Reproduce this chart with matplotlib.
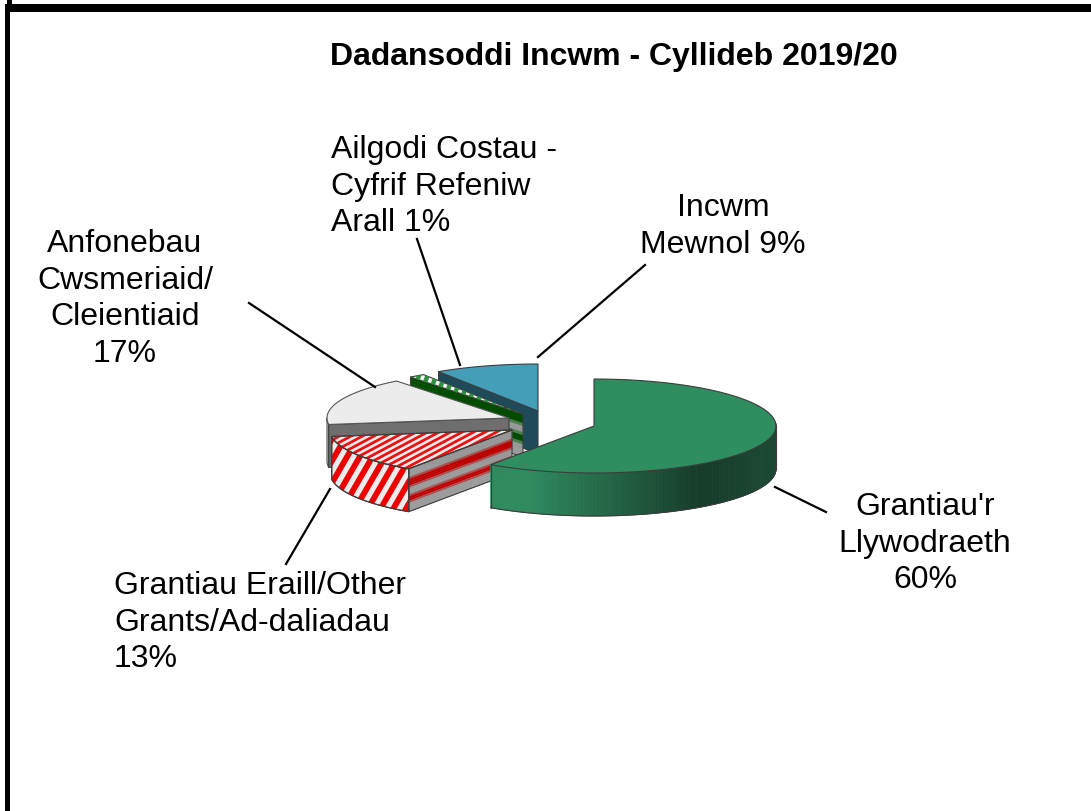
import numpy as np
import matplotlib
matplotlib.use("Agg")
import matplotlib.pyplot as plt
from matplotlib.patches import Polygon
from matplotlib.colors import to_rgb

plt.rcParams['font.family'] = ['Liberation Sans', 'DejaVu Sans']

title = "Dadansoddi Incwm - Cyllideb 2019/20"
# clockwise from 12 o'clock, shares
names = ["Grantiau'r", "Grantiau Eraill", "Anfonebau", "Ailgodi", "Incwm"]
shares = [59.6, 13.2, 16.6, 1.4, 9.2]

# pie geometry in pixels
rx, ry, depth = 182, 47, 43
centers = {"Grantiau'r": (594, 427), "Grantiau Eraill": (512, 431),
           "Anfonebau": (509, 419), "Ailgodi": (523, 415), "Incwm": (538, 412)}

ends = np.cumsum(shares) * 3.6
starts = ends - np.array(shares) * 3.6
theta = dict(zip(names, zip(starts, ends)))

fig = plt.figure(figsize=(10.91, 8.12), dpi=100)
ax = fig.add_axes([0, 0, 1, 1])
ax.set_xlim(0, 1091)
ax.set_ylim(812, 0)
ax.axis("off")

EDGE = "#3c3c3c"


def rim(name, a0, a1, dy=0, n=60):
    cx, cy = centers[name]
    a = np.radians(np.linspace(a0, a1, n))
    return np.column_stack([cx + rx * np.sin(a), cy - ry * np.cos(a) + dy])


def top(name):
    a0, a1 = theta[name]
    return np.vstack([centers[name], rim(name, a0, a1)])


def wall(name, a0, a1):
    return np.vstack([rim(name, a0, a1), rim(name, a0, a1, depth)[::-1]])


def cut(name, a):
    p = rim(name, a, a, n=1)[0]
    c = np.array(centers[name])
    d = np.array([0, depth])
    return np.array([p, c, c + d, p + d])


def shape(pts, color, z, edge=EDGE, lw=0.8):
    patch = Polygon(pts, closed=True, facecolor=color, edgecolor=edge, linewidth=lw, zorder=z)
    ax.add_patch(patch)
    return patch


def stripes(pts, slope, spacing, color, lw, z):
    # thick lines clipped to the polygon
    clip = Polygon(pts, closed=True, transform=ax.transData, facecolor="none", edgecolor="none")
    ax.add_patch(clip)
    mid = pts.mean(axis=0)
    a = np.radians(slope)
    d = np.array([np.cos(a), -np.sin(a)])
    nrm = np.array([d[1], -d[0]])
    for k in np.arange(-60, 61):
        c = mid + nrm * k * spacing
        ln, = ax.plot([c[0] - d[0] * 300, c[0] + d[0] * 300], [c[1] - d[1] * 300, c[1] + d[1] * 300],
                      color=color, lw=lw, zorder=z, solid_capstyle="butt")
        ln.set_clip_path(clip)


def bands(pts, colors, z):
    # parallel bands along a cut face, pts = top-a, top-b, bottom-b, bottom-a
    n = len(colors)
    for i, col in enumerate(colors):
        t0, t1 = i / n, (i + 1) / n
        q = np.array([pts[0] + (pts[3] - pts[0]) * t0, pts[1] + (pts[2] - pts[1]) * t0,
                      pts[1] + (pts[2] - pts[1]) * t1, pts[0] + (pts[3] - pts[0]) * t1])
        ax.add_patch(Polygon(q, closed=True, facecolor=col, edgecolor=col, linewidth=0.3, zorder=z))
    ax.add_patch(Polygon(pts, closed=True, facecolor="none", edgecolor=EDGE, linewidth=0.8, zorder=z + 0.1))


GREY, RED, MIX = "#9a9a9a", "#c00000", "#a85050"
DKG, GMIX = "#004d00", "#4f7f4f"

# Incwm Mewnol
a0, a1 = theta["Incwm"]
shape(cut("Incwm", a0), "#1f4a5a", 1)
shape(top("Incwm"), "#459eb8", 1.2)

# Ailgodi Costau
a0, a1 = theta["Ailgodi"]
bands(cut("Ailgodi", a0), [DKG, DKG, DKG, GMIX, GREY, GREY, GMIX, DKG, DKG, GMIX, GREY, GREY, GREY, GREY], 2)
t = top("Ailgodi")
shape(t, "#eef4ee", 2.2)
stripes(t, 70, 8, "#2f8f3f", 3.2, 2.3)

# Anfonebau
a0, a1 = theta["Anfonebau"]
shape(wall("Anfonebau", a0, a0 + 8), "#d6d6d6", 3, edge="#555555")
shape(cut("Anfonebau", a0), "#6e6e6e", 3.1)
shape(top("Anfonebau"), "#ececec", 3.2, edge="#555555")

# Grantiau Eraill
a0, a1 = theta["Grantiau Eraill"]
face = cut("Grantiau Eraill", a0)
bands(face[[1, 0, 3, 2]], [GREY, GREY, GREY, GREY, MIX, RED, RED, RED, MIX, GREY, GREY, GREY, MIX,
                           RED, RED, MIX, GREY, GREY, GREY, GREY], 4)
w = wall("Grantiau Eraill", a0, a1)
shape(w, "#ececec", 4.2)
stripes(w, 60, 11, "#ee0000", 4.2, 4.3)
ax.add_patch(Polygon(w, closed=True, facecolor="none", edgecolor=EDGE, linewidth=0.8, zorder=4.4))
t = top("Grantiau Eraill")
shape(t, "#f3eeee", 4.5)
stripes(t, 28, 5.4, "#ee1010", 2.0, 4.6)
ax.add_patch(Polygon(t, closed=True, facecolor="none", edgecolor=EDGE, linewidth=0.8, zorder=4.7))

# Grantiau'r Llywodraeth, wall shaded in thin slices
a0, a1 = theta["Grantiau'r"]
steps = np.linspace(85, a1, 130)
light, dark, rimc = np.array(to_rgb("#2f8a5e")), np.array(to_rgb("#163b2a")), np.array(to_rgb("#1c4a34"))
for s0, s1 in zip(steps[:-1], steps[1:]):
    x = rim("Grantiau'r", s0, s1, n=2)[:, 0].mean()
    if x < 700:
        f = min((700 - x) / 170, 1)
        col = dark * (1 - f) + light * f
    else:
        f = (x - 700) / 76
        col = dark * (1 - f) + rimc * f
    ax.add_patch(Polygon(wall("Grantiau'r", s0, s1), closed=True, facecolor=col, edgecolor=col, linewidth=0.6, zorder=5))
ax.plot(*rim("Grantiau'r", 85, a1, depth).T, color=EDGE, lw=0.8, zorder=5.1)
p = rim("Grantiau'r", a1, a1, n=1)[0]
ax.plot([p[0], p[0]], [p[1], p[1] + depth], color=EDGE, lw=0.8, zorder=5.1)
q = rim("Grantiau'r", 90, 90, n=1)[0]
ax.plot([q[0], q[0]], [q[1], q[1] + depth], color=EDGE, lw=0.8, zorder=5.1)
shape(top("Grantiau'r"), "#2e8e60", 5.2)

# leader lines
leaders = [((538, 358), (645, 266)), ((460, 366), (417, 240)), ((375, 388), (249, 304)),
           ((330, 490), (286, 565)), ((775, 488), (826, 513))]
for (x0, y0), (x1, y1) in leaders:
    ax.plot([x0, x1], [y0, y1], color="black", lw=1.6, zorder=6)

# labels, one text per line
LH = 36.6
labels = [("Ailgodi Costau -\nCyfrif Refeniw\nArall 1%", 331, 150, "left"),
          ("Incwm\nMewnol 9%", 723, 208, "center"),
          ("Anfonebau\nCwsmeriaid/\nCleientiaid\n17%", 125, 244, "center"),
          ("Grantiau'r\nLlywodraeth\n60%", 925, 507, "center"),
          ("Grantiau Eraill/Other\nGrants/Ad-daliadau\n13%", 114, 586, "left")]
for txt, x, y, ha in labels:
    for i, line in enumerate(txt.split("\n")):
        ax.text(x, y + i * LH, line, ha=ha, va="center", fontsize=23, color="black", zorder=7)

ax.text(614, 57, title, ha="center", va="center", fontsize=23, fontweight="bold", color="black", zorder=7)

# frame
ax.fill_between([6, 1091], 5, 13, color="black", lw=0, zorder=8)
ax.fill_between([5, 10], 5, 812, color="black", lw=0, zorder=8)
ax.fill_between([7, 12], 0, 5, color="black", lw=0, zorder=8)

fig.savefig("out.png", dpi=100)
